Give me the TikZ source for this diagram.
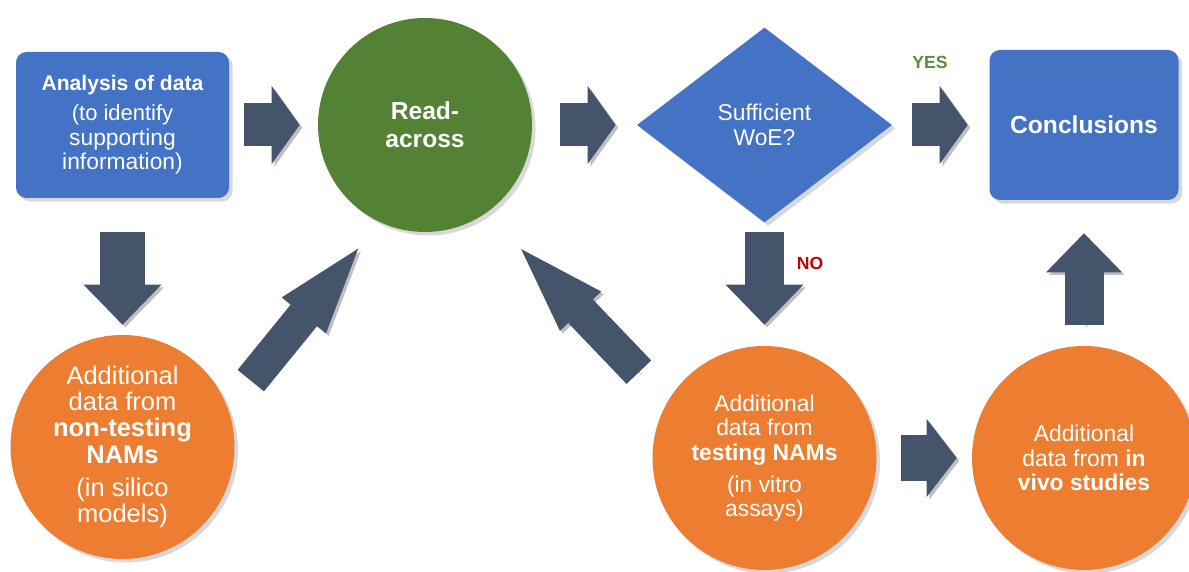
\documentclass[tikz,border=0pt]{standalone}
\usepackage{fontspec}
\setmainfont{Liberation Sans}
\usetikzlibrary{arrows.meta,positioning,shapes.geometric,shadows}
\definecolor{boxblue}{HTML}{4472C4}
\definecolor{readgreen}{HTML}{548235}
\definecolor{namorange}{HTML}{ED7D31}
\definecolor{arrowgray}{HTML}{44546A}
\definecolor{yesgreen}{HTML}{5A8E3A}
\definecolor{nored}{HTML}{C00000}

\begin{document}
\begin{tikzpicture}[
  font=\fontsize{13}{14}\selectfont,
  shade/.style={drop shadow={opacity=0.3, shadow xshift=2pt, shadow yshift=-2pt}},
  box/.style={fill=boxblue, rounded corners=6pt, text=white, align=center, inner sep=2pt, shade},
  disc/.style={circle, fill=namorange, text=white, align=center, minimum size=4.48cm, inner sep=0pt, shade},
  dec/.style={diamond, fill=boxblue, text=white, align=center, minimum width=5.1cm, minimum height=3.9cm, inner sep=0pt, shade},
  blk/.style={draw=arrowgray, line width=0.86cm, -{Triangle[length=0.56cm, width=1.56cm, line width=0pt]},
    preaction={draw=black, opacity=0.25, transform canvas={shift={(1.5pt,-1.5pt)}}}},
  vblk/.style={blk, line width=0.78cm, -{Triangle[length=0.8cm, width=1.56cm, line width=0pt]}},
  dblk/.style={blk, line width=0.68cm, -{Triangle[length=1.72cm, width=1.14cm, line width=0pt]}},
  lbl/.style={font=\fontsize{10}{12}\selectfont\bfseries}
]
\useasboundingbox (0,0) rectangle (23.78,11.44);
\fill[white] (0,0) rectangle (23.78,11.44);

% top row
\node[box, minimum width=4.26cm, minimum height=2.92cm] (ana) at (2.45,8.94)
  {{\fontsize{12}{14}\selectfont\bfseries Analysis of data}\\[3pt]
   \fontsize{12.5}{14}\selectfont(to identify\\supporting\\information)};
\node[disc, fill=readgreen, minimum size=4.28cm, font=\fontsize{14}{16}\selectfont\bfseries] (read) at (8.5,8.94) {Read-\\across};
\node[dec] (dia) at (15.29,8.94) {Sufficient\\WoE?};
\node[box, minimum width=3.78cm, minimum height=3cm, font=\fontsize{14}{16}\selectfont\bfseries] (conc) at (21.68,8.94) {Conclusions};

% bottom row
\node[disc, font=\fontsize{14.5}{15}\selectfont] (nontest) at (2.45,2.5)
  {Additional\\data from\\\textbf{non-testing}\\\textbf{NAMs}\\[4pt](in silico\\models)};
\node[disc] (testing) at (15.29,2.28)
  {Additional\\data from\\\textbf{testing NAMs}\\[4pt](in vitro\\assays)};
\node[disc] (invivo) at (21.68,2.28)
  {Additional\\data from \textbf{in}\\\textbf{vivo studies}};

% arrows
\draw[blk, shorten <=0.3cm, shorten >=0.36cm] (ana) -- (read);
\draw[blk, shorten <=0.56cm, shorten >=0.42cm] (read) -- (dia);
\draw[blk, shorten <=0.4cm, shorten >=0.43cm] (dia) -- (conc);
\draw[vblk, line width=0.9cm, shorten <=0.68cm, shorten >=0.2cm] (ana) -- (nontest);
\draw[vblk, shorten <=0.18cm, shorten >=0.42cm] (dia) -- (testing);
\draw[vblk, -{Triangle[length=0.78cm, width=1.52cm, line width=0pt]}, shorten <=0.42cm, shorten >=0.66cm] (invivo) -- (conc);
\draw[blk, line width=0.92cm, -{Triangle[length=0.6cm, width=1.56cm, line width=0pt]}, shorten <=0.49cm, shorten >=0.3cm] (testing) -- (invivo);
\draw[dblk, shorten <=0.72cm, shorten >=0.68cm] (nontest.20) -- (read.245);
\draw[dblk, shorten <=0.82cm, shorten >=1cm] (testing.150) -- (read.305);

\node[lbl, text=yesgreen] (yes) at (18.6,10.2) {YES};
\node[lbl, text=nored] (no) at (16.2,6.18) {NO};
\end{tikzpicture}
\end{document}
